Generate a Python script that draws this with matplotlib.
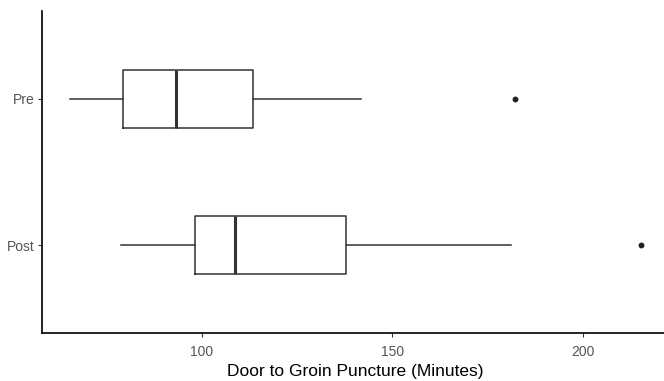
import matplotlib
matplotlib.use("Agg")
import matplotlib.pyplot as plt

plt.rcParams['font.family'] = ['Liberation Sans', 'DejaVu Sans']

# box stats (minutes)
groups = ['Post', 'Pre']
whislo = [79.0, 65.6]
q1 = [98.4, 79.3]
med = [108.9, 93.2]
q3 = [137.8, 113.6]
whishi = [181.1, 141.7]
fliers = [[215.2], [182.2]]
xticks = [100, 150, 200]

stats = []
for i, g in enumerate(groups):
    stats.append({'label': g, 'whislo': whislo[i], 'q1': q1[i], 'med': med[i],
                  'q3': q3[i], 'whishi': whishi[i], 'fliers': fliers[i]})

fig = plt.figure(figsize=(6.64, 3.81), dpi=100)
ax = fig.add_axes([0.063, 0.126, 0.945, 0.845])

line = dict(color='#333333', linewidth=1.1)
ax.bxp(stats, positions=[1, 2], widths=0.4, vert=False, showcaps=False,
       boxprops=line, whiskerprops=line,
       medianprops=dict(color='#333333', linewidth=2.2),
       flierprops=dict(marker='o', markersize=3.2, markerfacecolor='#222222',
                       markeredgecolor='#222222'))

lo = min(whislo + [f for fl in fliers for f in fl])
hi = max(whishi + [f for fl in fliers for f in fl])
pad = (hi - lo) * 0.05
ax.set_xlim(lo - pad, hi + pad)
ax.set_ylim(0.4, 2.6)
ax.set_xticks(xticks)
ax.set_yticks([1, 2])
ax.set_yticklabels(groups)

for s in ['top', 'right']:
    ax.spines[s].set_visible(False)
for s in ['left', 'bottom']:
    ax.spines[s].set_linewidth(1.2)
    ax.spines[s].set_color('black')
ax.tick_params(length=3, width=0.8, color='#333333', labelcolor='#555555',
               labelsize=10, pad=2)
ax.tick_params(axis='x', pad=6)
ax.set_xlabel('Door to Groin Puncture (Minutes)', fontsize=12.5, labelpad=3)

fig.savefig('out.png', dpi=100)
